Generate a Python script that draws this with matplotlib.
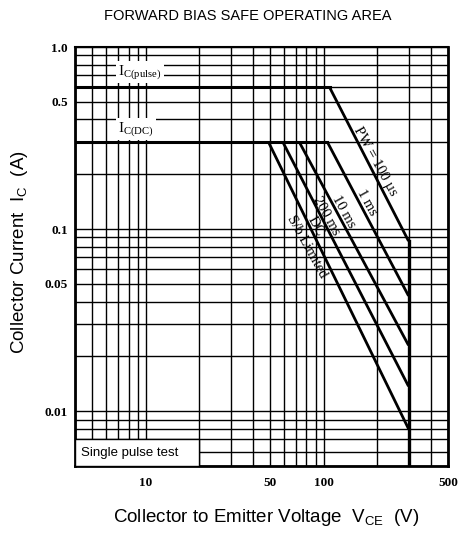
import numpy as np
import matplotlib
matplotlib.use("Agg")
import matplotlib.pyplot as plt
from matplotlib.ticker import FixedLocator, LogLocator, NullFormatter, FixedFormatter
from matplotlib.patches import Rectangle

# safe operating area, one entry per curve (right to left)
curve_names = ["PW = 100 µs", "1 ms", "10 ms", "200 ms", "DC"]
knee_voltage = [108, 105, 73, 59, 49]                 # V, where the curve leaves the current limit
knee_current = [0.6, 0.3, 0.3, 0.3, 0.3]              # A
end_current = [0.086, 0.043, 0.023, 0.0137, 0.008]    # A at VCEO

ic_pulse = 0.6
ic_dc = 0.3
vceo = 300

x_ticks = [10, 50, 100, 500]
x_tick_labels = ["10", "50", "100", "500"]
y_ticks = [1.0, 0.5, 0.1, 0.05, 0.01]
y_tick_labels = ["1.0", "0.5", "0.1", "0.05", "0.01"]

xlim = (4, 500)
ylim = (0.005, 1.0)

# curve labels drawn along the lines
label_texts = curve_names + ["S/b Limited"]
label_pos = [(196, 0.235), (176, 0.140), (130, 0.125), (103, 0.118), (90, 0.104), (80, 0.080)]

serif = "Liberation Serif"
sans = "Liberation Sans"

W, H = 459, 533
fig = plt.figure(figsize=(W / 100, H / 100), dpi=100)
ax = fig.add_axes([75 / W, 1 - 466 / H, 373 / W, 419 / H])
ax.set_xscale("log")
ax.set_yscale("log")
ax.set_xlim(*xlim)
ax.set_ylim(*ylim)

# grid
ax.xaxis.set_major_locator(FixedLocator(x_ticks))
ax.xaxis.set_major_formatter(FixedFormatter(x_tick_labels))
ax.xaxis.set_minor_locator(LogLocator(base=10, subs=np.arange(1, 10)))
ax.xaxis.set_minor_formatter(NullFormatter())
ax.yaxis.set_major_locator(FixedLocator(y_ticks))
ax.yaxis.set_major_formatter(FixedFormatter(y_tick_labels))
ax.yaxis.set_minor_locator(LogLocator(base=10, subs=np.arange(1, 10)))
ax.yaxis.set_minor_formatter(NullFormatter())
ax.set_axisbelow(True)
ax.grid(True, which="both", color="black", lw=1.0)
ax.tick_params(which="both", length=0)
ax.tick_params(axis="x", pad=8)
ax.tick_params(axis="y", pad=5)
for lab in ax.get_xticklabels() + ax.get_yticklabels():
    lab.set_fontfamily(serif)
    lab.set_fontsize(9.5)
    lab.set_fontweight("bold")

for side, lw in [("left", 2.0), ("bottom", 2.0), ("right", 2.0), ("top", 1.5)]:
    ax.spines[side].set_linewidth(lw)

# limit lines
ax.plot([xlim[0], knee_voltage[0]], [ic_pulse, ic_pulse], color="black", lw=2.2)
ax.plot([xlim[0], knee_voltage[1]], [ic_dc, ic_dc], color="black", lw=2.2)
for v, c, e in zip(knee_voltage, knee_current, end_current):
    ax.plot([v, vceo], [c, e], color="black", lw=2.0, solid_capstyle="butt")
ax.plot([vceo, vceo], [end_current[0], ylim[0]], color="black", lw=2.4)

for t, (x, y) in zip(label_texts, label_pos):
    ax.text(x, y, t, rotation=-61, rotation_mode="anchor", ha="center", va="center",
            fontsize=10.5, family=serif, zorder=5)

# current limit labels
ax.text(7.0, 0.73, r"I$\mathregular{_{C(pulse)}}$", family=serif, fontsize=11,
        ha="left", va="center", zorder=5,
        bbox=dict(facecolor="white", edgecolor="none", pad=1.5))
ax.text(7.0, 0.355, r"I$\mathregular{_{C(DC)}}$", family=serif, fontsize=11,
        ha="left", va="center", zorder=5,
        bbox=dict(facecolor="white", edgecolor="none", pad=1.5))

# single pulse test box
ax.add_patch(Rectangle((xlim[0], ylim[0]), 20 - xlim[0], 0.007 - ylim[0],
                       facecolor="white", edgecolor="black", lw=1.0, zorder=4))
ax.text(4.3, 0.0059, "Single pulse test", family=sans, fontsize=9.5,
        ha="left", va="center", zorder=5)

fig.text(248 / W, 1 - 16 / H, "FORWARD BIAS SAFE OPERATING AREA", family=sans,
         fontsize=10.5, ha="center", va="center")
fig.text(266 / W, 1 - 518 / H, r"Collector to Emitter Voltage  V$\mathregular{_{CE}}$  (V)",
         family=sans, fontsize=13.5, ha="center", va="center")
fig.text(20 / W, 1 - 252 / H, r"Collector Current  I$\mathregular{_{C}}$  (A)",
         family=sans, fontsize=13.5, rotation=90, ha="center", va="center")

fig.savefig("out.png", dpi=100)
